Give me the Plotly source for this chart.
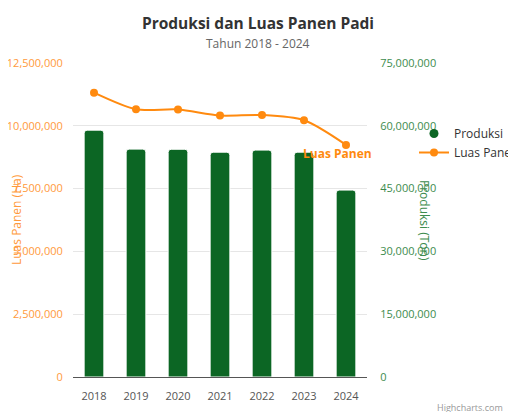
import plotly.graph_objects as go

years = [2018, 2019, 2020, 2021, 2022, 2023, 2024]
produksi = [58960000, 54430000, 54400000, 53700000, 54200000, 53700000, 44650000]
luas_panen = [11320000, 10660000, 10650000, 10410000, 10430000, 10220000, 9240000]

left_ticks = [0, 2500000, 5000000, 7500000, 10000000, 12500000]
right_ticks = [0, 15000000, 30000000, 45000000, 60000000, 75000000]

GREEN = "#0c6624"
ORANGE = "#ff8a0f"
ORANGE_LBL = "#ff9a3c"
GREEN_LBL = "#3d8c4e"
FONT = "Open Sans"

W, H = 508, 404  # page body adds an 8px margin
L, R, T, B = 65, 149, 55, 35
PW, PH = W - L - R, H - T - B


def px(x):
    return (x - L) / PW


def py(y):
    return (H - B - y) / PH


fig = go.Figure()

fig.add_trace(go.Bar(
    x=years, y=produksi, name="Produksi", yaxis="y",
    marker=dict(color=GREEN, line=dict(color="#ffffff", width=1), cornerradius=3),
    width=0.47, showlegend=False, legendgroup="p",
))
fig.add_trace(go.Scatter(
    x=[years[0]], y=[None], mode="markers", name="Produksi", yaxis="y",
    marker=dict(color=GREEN, size=9, symbol="circle"), legendgroup="p", hoverinfo="skip",
))
fig.add_trace(go.Scatter(
    x=years, y=luas_panen, name="Luas Panen", yaxis="y2", mode="lines+markers",
    line=dict(color=ORANGE, width=2, shape="spline", smoothing=0.8),
    marker=dict(color=ORANGE, size=8),
))

fig.update_layout(
    width=W, height=H,
    margin=dict(l=L, r=R, t=T, b=B, autoexpand=False),
    paper_bgcolor="white", plot_bgcolor="white",
    font=dict(family=FONT, size=11, color="#333333"),
    title=dict(text="<b>Produksi dan Luas Panen Padi</b>", x=250 / W, xref="container", xanchor="center",
               y=1 - 16 / H, yref="container", yanchor="middle",
               font=dict(family=FONT, size=15.5, color="#333333")),
    xaxis=dict(type="linear", range=[years[0] - 0.5, years[-1] + 0.5], tickvals=years,
               showgrid=False, showline=True, linecolor="#555555", linewidth=1, zeroline=False,
               ticks="outside", ticklen=9, tickcolor="rgba(0,0,0,0)",
               tickfont=dict(size=11, color="#555555"), automargin=False),
    yaxis=dict(side="right", range=[0, 75000000], tickvals=right_ticks, tickformat=",",
               showgrid=False, zeroline=False, tickfont=dict(size=11, color=GREEN_LBL),
               ticks="outside", ticklen=10, tickcolor="rgba(0,0,0,0)", automargin=False),
    yaxis2=dict(side="left", overlaying="y", anchor="x", range=[0, 12500000], tickvals=left_ticks,
                tickformat=",", showgrid=True, gridcolor="#e6e6e6", zeroline=False,
                tickfont=dict(size=11, color=ORANGE_LBL),
                ticks="outside", ticklen=7, tickcolor="rgba(0,0,0,0)", automargin=False),
    legend=dict(xref="container", yref="container", x=406 / W, y=1 - 111 / H,
                xanchor="left", yanchor="top", font=dict(size=12, color="#333333"),
                bgcolor="rgba(0,0,0,0)", tracegroupgap=0),
)

fig.add_annotation(text="Tahun 2018 - 2024", xref="paper", yref="paper", x=px(250), y=py(35),
                   showarrow=False, font=dict(size=12, color="#666666"),
                   xanchor="center", yanchor="middle")
fig.add_annotation(text="Luas Panen (Ha)", xref="paper", yref="paper", x=px(8), y=0.5,
                   textangle=-90, showarrow=False, font=dict(size=12, color=ORANGE_LBL),
                   xanchor="center", yanchor="middle")
fig.add_annotation(text="Produksi (Ton)", xref="paper", yref="paper", x=px(417), y=0.5,
                   textangle=90, showarrow=False, font=dict(size=12, color=GREEN_LBL),
                   xanchor="center", yanchor="middle")
fig.add_annotation(text="<b>Luas Panen</b>", x=years[-1], y=luas_panen[-1], xref="x", yref="y2",
                   showarrow=False, xshift=-9, yshift=-9, font=dict(size=12, color=ORANGE),
                   xanchor="center", yanchor="middle")
fig.add_annotation(text="Highcharts.com", xref="paper", yref="paper", x=px(497), y=py(399),
                   showarrow=False, font=dict(size=9, color="#999999"),
                   xanchor="right", yanchor="middle")

fig.write_html("out.html")
